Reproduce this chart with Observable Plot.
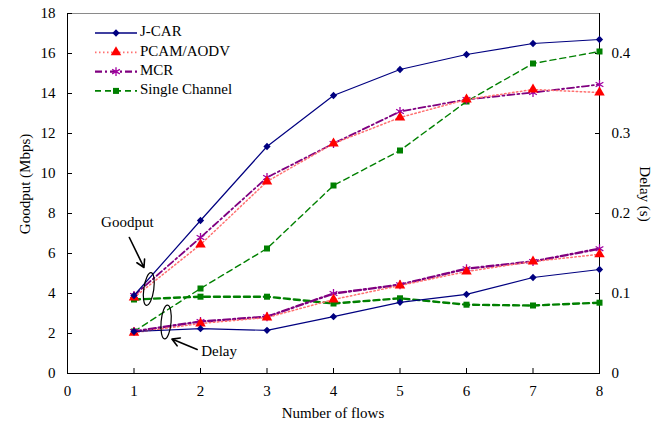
<!DOCTYPE html>
<html><head><meta charset="utf-8">
<script src="https://cdn.jsdelivr.net/npm/d3@7"></script>
<script src="https://cdn.jsdelivr.net/npm/@observablehq/plot@0.6"></script>
<style>body{margin:0;background:#fff} svg, svg text{font-family:"Liberation Serif","Times New Roman",serif !important}</style>
</head><body><div id="c"></div>
<script>
// ---- data ----
const flows = [1, 2, 3, 4, 5, 6, 7, 8];
const seriesNames = ["J-CAR", "PCAM/AODV", "MCR", "Single Channel"];
const goodputJCAR   = [3.9, 7.65, 11.35, 13.9, 15.2, 15.95, 16.5, 16.7];
const goodputPCAM   = [3.8, 6.45, 9.6, 11.5, 12.8, 13.7, 14.2, 14.05];
const goodputMCR    = [3.9, 6.8, 9.8, 11.5, 13.1, 13.7, 14.05, 14.45];
const goodputSingle = [2.1, 4.25, 6.25, 9.4, 11.15, 13.6, 15.5, 16.1];
const delayJCAR   = [0.0525, 0.056, 0.054, 0.071, 0.089, 0.099, 0.12, 0.13];
const delayPCAM   = [0.051, 0.0625, 0.07, 0.0925, 0.11, 0.1275, 0.14, 0.149];
const delayMCR    = [0.0525, 0.065, 0.071, 0.1, 0.111, 0.131, 0.14, 0.156];
const delaySingle = [0.0925, 0.096, 0.096, 0.0875, 0.094, 0.086, 0.085, 0.0885];
const xTicks = [0, 1, 2, 3, 4, 5, 6, 7, 8];
const goodputTicks = [0, 2, 4, 6, 8, 10, 12, 14, 16, 18];
const delayTicks = [0, 0.1, 0.2, 0.3, 0.4];
const delayMax = 0.45, goodputMax = 18;
const K = goodputMax / delayMax; // delay -> goodput units

const goodputs = [goodputJCAR, goodputPCAM, goodputMCR, goodputSingle];
const delays = [delayJCAR, delayPCAM, delayMCR, delaySingle];

// ---- styles ----
const styles = [
  {stroke: "#000080", dash: null, sw: 1.2, sw2: 1.2, symbol: "square", rot: 45, r: 2.9, fill: "#000080", mstroke: "none"},
  {stroke: "#ff7070", dash: "1.5,2.5", sw: 1.5, sw2: 1.5, symbol: "triangle", rot: 0, r: 3.9, fill: "#ff0000", mstroke: "none"},
  {stroke: "#800080", dash: "7,3,2,3", sw: 1.8, sw2: 2.4, symbol: "asterisk", rot: 0, r: 4.2, fill: "none", mstroke: "#a000a0"},
  {stroke: "#008000", dash: "6,4", sw: 1.4, sw2: 2.4, symbol: "square", rot: 0, r: 3.4, fill: "#008000", mstroke: "none"}
];

const table = [];
seriesNames.forEach((s, i) => flows.forEach((f, j) => {
  table.push({series: s, idx: i, kind: "goodput", x: f, y: goodputs[i][j]});
  table.push({series: s, idx: i, kind: "delay", x: f, y: delays[i][j] * K});
}));

const FONT = "'Liberation Serif', 'Times New Roman', serif";

const marks = [
  Plot.ruleY([goodputMax], {stroke: "#8a8a8a"}),
  Plot.ruleX([8], {stroke: "black"}),
  Plot.ruleX([0], {stroke: "black"}),
  Plot.ruleY([0], {stroke: "black"}),
  Plot.axisX(xTicks, {anchor: "bottom", tickSize: -5, tickPadding: 17, fontSize: 15, label: null, tickFormat: d => String(d)}),
  Plot.axisY(goodputTicks, {anchor: "left", tickSize: -5, tickPadding: 17, fontSize: 15, label: null, tickFormat: d => String(d)}),
  Plot.axisY(delayTicks.map(d => d * K), {anchor: "right", tickSize: -5, tickPadding: 17, fontSize: 15, label: null, tickFormat: d => String(+(d / K).toFixed(2))})
];

[3, 2, 1, 0].forEach(i => {
  const st = styles[i];
  ["goodput", "delay"].forEach(kind => {
    const d = table.filter(r => r.idx === i && r.kind === kind);
    marks.push(Plot.line(d, {x: "x", y: "y", stroke: st.stroke, strokeWidth: kind === "delay" ? st.sw2 : st.sw, strokeDasharray: st.dash}));
    marks.push(Plot.dot(d, {x: "x", y: "y", symbol: () => st.symbol, rotate: st.rot, r: st.r, fill: st.fill, stroke: st.mstroke, strokeWidth: 1.3}));
  });
});

// annotations (data units)
const goodputLabel = {x: 0.9, y: 7.55};
const goodputArrow = {x1: 0.93, y1: 6.8, x2: 1.15, y2: 5.3};
const delayLabel = {x: 2.28, y: 1.1};
const delayArrow = {x1: 1.95, y1: 1.2, x2: 1.57, y2: 1.72};
marks.push(Plot.text([goodputLabel], {x: "x", y: "y", text: () => "Goodput", fontSize: 15, fill: "black"}));
marks.push(Plot.text([delayLabel], {x: "x", y: "y", text: () => "Delay", fontSize: 15, fill: "black"}));
marks.push(Plot.arrow([goodputArrow, delayArrow], {x1: "x1", y1: "y1", x2: "x2", y2: "y2", stroke: "black", strokeWidth: 1.6, headLength: 8, bend: 0}));

const chart = Plot.plot({
  width: 668, height: 427,
  marginLeft: 67, marginRight: 69, marginTop: 13, marginBottom: 54,
  x: {domain: [0, 8]},
  y: {domain: [0, goodputMax]},
  style: {fontFamily: FONT, fontSize: "15px", color: "black", background: "white"},
  marks
});
document.getElementById("c").append(chart);

const svg = d3.select(chart);
svg.attr("font-family", FONT);
const xs = chart.scale("x"), ys = chart.scale("y");
// ellipses around series
const ellipses = [{x: 1.23, y: 4.2, rx: 5, ry: 16.5, rot: 8}, {x: 1.49, y: 2.55, rx: 5, ry: 17, rot: 5}];
ellipses.forEach(e => {
  svg.append("ellipse")
    .attr("transform", `translate(${xs.apply(e.x)},${ys.apply(e.y)}) rotate(${e.rot})`)
    .attr("rx", e.rx).attr("ry", e.ry)
    .attr("fill", "none").attr("stroke", "black").attr("stroke-width", 1.2);
});

// axis titles
svg.append("text").attr("transform", "translate(27,184) rotate(-90)").attr("text-anchor", "middle")
  .attr("dominant-baseline", "middle").attr("font-size", 15).text("Goodput (Mbps)");
svg.append("text").attr("transform", "translate(643,194) rotate(90)").attr("text-anchor", "middle")
  .attr("dominant-baseline", "middle").attr("font-size", 15).text("Delay (s)");
svg.append("text").attr("x", 333).attr("y", 415).attr("text-anchor", "middle")
  .attr("dominant-baseline", "middle").attr("font-size", 15).text("Number of flows");

// legend
const symMap = {triangle: d3.symbolTriangle, asterisk: d3.symbolAsterisk, square: d3.symbolSquare};
const lg = svg.append("g");
seriesNames.forEach((name, i) => {
  const st = styles[i];
  const y = 33 + i * 19.3;
  lg.append("line").attr("x1", 95).attr("x2", 137).attr("y1", y).attr("y2", y)
    .attr("stroke", st.stroke).attr("stroke-width", st.sw + 0.3).attr("stroke-dasharray", st.dash);
  lg.append("path").attr("transform", `translate(116,${y}) rotate(${st.rot})`)
    .attr("d", d3.symbol(symMap[st.symbol], Math.PI * st.r * st.r)())
    .attr("fill", st.fill).attr("stroke", st.mstroke).attr("stroke-width", 1.3);
  lg.append("text").attr("x", 140).attr("y", y).attr("text-anchor", "start").attr("dominant-baseline", "middle")
    .attr("font-size", 15).text(name);
});
</script></body></html>
